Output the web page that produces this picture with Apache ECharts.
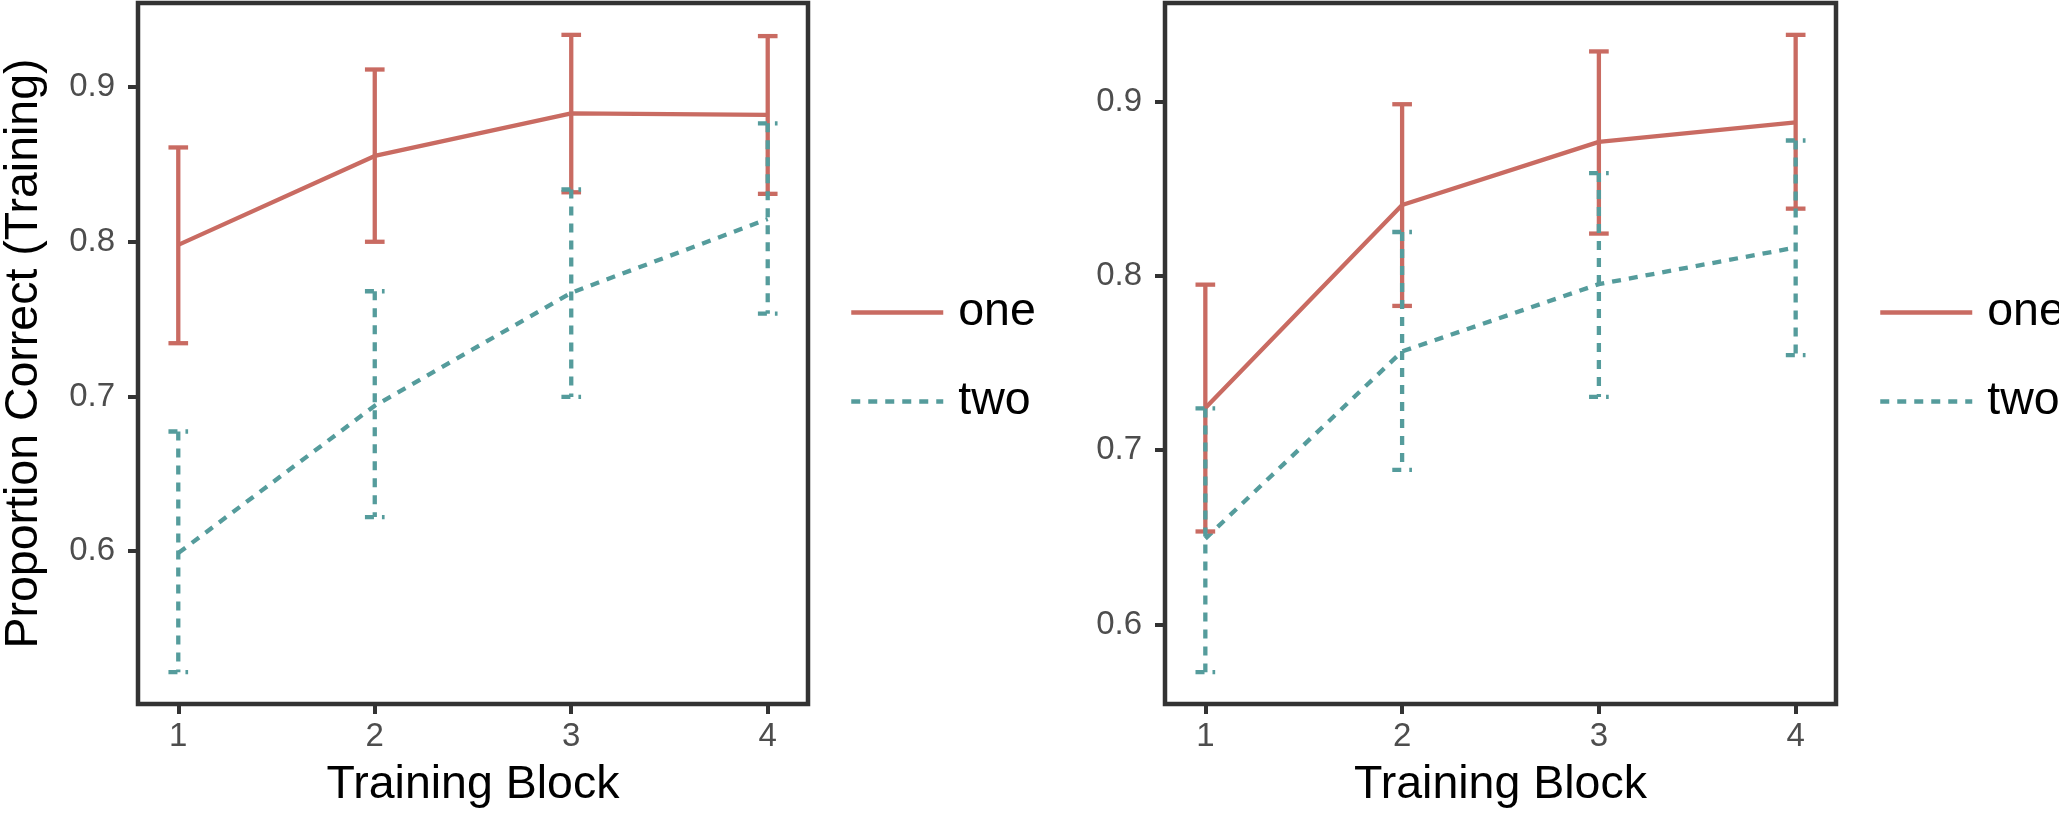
<!DOCTYPE html>
<html lang="en">
<head>
    <meta charset="UTF-8">
    <title>Proportion Correct by Training Block</title>
    <script src="https://cdn.jsdelivr.net/npm/echarts@6.0.0/dist/echarts.min.js"></script>
    <style>
        html, body {
            margin: 0;
            padding: 0;
            background-color: #fff;
        }

        #chart {
            width: 2059px;
            height: 814px;
        }
    </style>
</head>
<body>
    <div id="chart"></div>

    <script>
        // data
        const blocks = [1, 2, 3, 4];
        const xTicks = [1, 2, 3, 4];
        const yTicks = [0.6, 0.7, 0.8, 0.9];
        const groupNames = ['one', 'two'];

        // left panel
        const leftOneMean = [0.798, 0.8555, 0.883, 0.882];
        const leftOneLow = [0.7344, 0.800, 0.832, 0.831];
        const leftOneHigh = [0.861, 0.9114, 0.9338, 0.933];
        const leftTwoMean = [0.5987, 0.694, 0.767, 0.8147];
        const leftTwoLow = [0.5217, 0.622, 0.6997, 0.7535];
        const leftTwoHigh = [0.6773, 0.768, 0.8338, 0.8766];

        // right panel
        const rightOneMean = [0.7243, 0.8407, 0.8769, 0.8881];
        const rightOneLow = [0.6534, 0.7828, 0.8243, 0.8386];
        const rightOneHigh = [0.795, 0.8985, 0.9288, 0.9383];
        const rightTwoMean = [0.6493, 0.7567, 0.7953, 0.8163];
        const rightTwoLow = [0.5727, 0.6887, 0.7306, 0.7546];
        const rightTwoHigh = [0.724, 0.8252, 0.859, 0.8777];

        const RED = '#c96b62';
        const TEAL = '#559c9c';
        const DASH = [9, 8];
        const FONT = '"Liberation Sans", Arial, Helvetica, sans-serif';
        const CAP = 0.05; // half width of error bar caps, in x units

        // ggplot style 5% expansion
        function expand(lo, hi) {
            const pad = (hi - lo) * 0.05;
            return [lo - pad, hi + pad];
        }
        const xRange = expand(blocks[0] - CAP, blocks[blocks.length - 1] + CAP);
        const leftRange = expand(Math.min(...leftOneLow, ...leftTwoLow), Math.max(...leftOneHigh, ...leftTwoHigh));
        const rightRange = expand(Math.min(...rightOneLow, ...rightTwoLow), Math.max(...rightOneHigh, ...rightTwoHigh));

        function zip(mean, low, high) {
            return blocks.map((b, i) => [b, mean[i], low[i], high[i]]);
        }

        function errorBar(name, idx, rows, color, dashed) {
            return {
                name: name,
                type: 'custom',
                xAxisIndex: idx,
                yAxisIndex: idx,
                data: rows,
                z: 3,
                silent: true,
                renderItem: function (params, api) {
                    const x = api.value(0);
                    const lo = api.value(2);
                    const hi = api.value(3);
                    const style = {
                        stroke: color,
                        lineWidth: 4.3,
                        lineDash: dashed ? DASH : null
                    };
                    const seg = (a, b) => ({
                        type: 'line',
                        shape: { x1: a[0], y1: a[1], x2: b[0], y2: b[1] },
                        style: style
                    });
                    return {
                        type: 'group',
                        children: [
                            seg(api.coord([x - CAP, hi]), api.coord([x + CAP, hi])),
                            seg(api.coord([x, hi]), api.coord([x, lo])),
                            seg(api.coord([x - CAP, lo]), api.coord([x + CAP, lo]))
                        ]
                    };
                }
            };
        }

        function meanLine(name, idx, values, color, dashed) {
            return {
                name: name,
                type: 'line',
                xAxisIndex: idx,
                yAxisIndex: idx,
                data: blocks.map((b, i) => [b, values[i]]),
                symbol: 'none',
                z: 2,
                lineStyle: { color: color, width: 4.3, type: dashed ? DASH : 'solid' },
                itemStyle: { color: color }
            };
        }

        function xAxis(idx) {
            return {
                type: 'value',
                gridIndex: idx,
                min: xRange[0],
                max: xRange[1],
                splitLine: { show: false },
                axisLine: { show: false },
                axisTick: {
                    show: true,
                    customValues: xTicks,
                    length: 10,
                    lineStyle: { color: '#333', width: 4 }
                },
                axisLabel: {
                    customValues: xTicks,
                    margin: 16,
                    color: '#4d4d4d',
                    fontSize: 33,
                    fontFamily: FONT
                },
                name: 'Training Block',
                nameLocation: 'middle',
                nameGap: 58,
                nameTextStyle: { color: '#000', fontSize: 46.5, fontFamily: FONT }
            };
        }

        function yAxis(idx, range, title) {
            return {
                type: 'value',
                gridIndex: idx,
                min: range[0],
                max: range[1],
                splitLine: { show: false },
                axisLine: { show: false },
                axisTick: {
                    show: true,
                    customValues: yTicks,
                    length: 10,
                    lineStyle: { color: '#333', width: 4 }
                },
                axisLabel: {
                    customValues: yTicks,
                    margin: 23,
                    color: '#4d4d4d',
                    fontSize: 33,
                    fontFamily: FONT,
                    formatter: v => v.toFixed(1)
                },
                name: title,
                nameLocation: 'middle',
                nameGap: 90,
                nameRotate: 90,
                nameTextStyle: { color: '#000', fontSize: 46.5, fontFamily: FONT }
            };
        }

        function legend(left) {
            return {
                data: groupNames,
                orient: 'vertical',
                left: left,
                top: 284,
                itemWidth: 92,
                itemHeight: 6,
                itemGap: 42,
                selectedMode: false,
                itemStyle: { opacity: 0 },
                lineStyle: { width: 4.5, inactiveWidth: 4.5 },
                textStyle: {
                    color: '#000',
                    fontSize: 46.5,
                    lineHeight: 45,
                    fontFamily: FONT,
                    padding: [0, 0, 0, 10]
                }
            };
        }

        const chart = echarts.init(document.getElementById('chart'), null, { renderer: 'canvas' });
        chart.setOption({
            animation: false,
            backgroundColor: '#fff',
            grid: [
                { left: 138, top: 3, width: 670, height: 703, show: true, borderColor: '#333', borderWidth: 4.5, backgroundColor: 'transparent' },
                { left: 1165, top: 3, width: 671, height: 703, show: true, borderColor: '#333', borderWidth: 4.5, backgroundColor: 'transparent' }
            ],
            xAxis: [xAxis(0), xAxis(1)],
            yAxis: [yAxis(0, leftRange, 'Proportion Correct (Training)'), yAxis(1, rightRange, '')],
            legend: [legend(844), legend(1873)],
            series: [
                meanLine('one', 0, leftOneMean, RED, false),
                meanLine('two', 0, leftTwoMean, TEAL, true),
                errorBar('one', 0, zip(leftOneMean, leftOneLow, leftOneHigh), RED, false),
                errorBar('two', 0, zip(leftTwoMean, leftTwoLow, leftTwoHigh), TEAL, true),
                meanLine('one', 1, rightOneMean, RED, false),
                meanLine('two', 1, rightTwoMean, TEAL, true),
                errorBar('one', 1, zip(rightOneMean, rightOneLow, rightOneHigh), RED, false),
                errorBar('two', 1, zip(rightTwoMean, rightTwoLow, rightTwoHigh), TEAL, true)
            ]
        });
    </script>
</body>
</html>
